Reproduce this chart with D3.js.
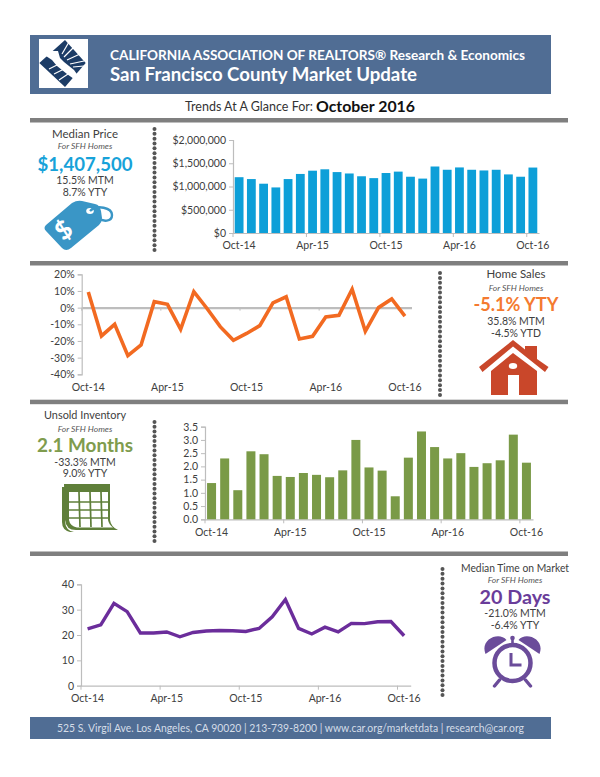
<!DOCTYPE html>
<html><head><meta charset="utf-8">
<script src="https://cdn.jsdelivr.net/npm/d3@7"></script>
<style>html,body{margin:0;padding:0;background:#fff}svg{display:block}text{font-family:Lato,"Open Sans",sans-serif}</style>
</head><body><svg id="c" width="600" height="777"></svg>
<script>
const months=["Oct-14","Nov-14","Dec-14","Jan-15","Feb-15","Mar-15","Apr-15","May-15","Jun-15","Jul-15","Aug-15","Sep-15","Oct-15","Nov-15","Dec-15","Jan-16","Feb-16","Mar-16","Apr-16","May-16","Jun-16","Jul-16","Aug-16","Sep-16","Oct-16"];
const tickMonths=["Oct-14","Apr-15","Oct-15","Apr-16","Oct-16"];
const medianPrice=[1200000,1160000,1060000,980000,1160000,1270000,1340000,1370000,1310000,1280000,1220000,1180000,1290000,1320000,1210000,1170000,1430000,1360000,1410000,1360000,1345000,1360000,1260000,1210000,1407500];
const homeSales=[9.4,-17,-10,-28.8,-22.4,3.6,2,-13,9.6,-0.5,-11.4,-19.6,-15.5,-10.8,2.8,6.5,-18.8,-17.2,-5.6,-4.6,11,-14.2,0,5.2,-5.1];
const inventory=[1.37,2.3,1.1,2.57,2.46,1.64,1.6,1.75,1.68,1.59,1.85,3.0,1.96,1.84,0.87,2.33,3.32,2.73,2.3,2.5,1.98,2.12,2.23,3.2,2.14];
const timeOnMarket=[22.4,24,32.5,29.2,20.8,20.8,21.2,19.3,21,21.6,21.8,21.7,21.4,22.6,27.2,34,22.6,20.4,23.1,21.2,24.6,24.5,25.2,25.3,19.7];
const priceTicks=[0,500000,1000000,1500000,2000000];
const salesTicks=[-40,-30,-20,-10,0,10,20];
const inventoryTicks=[0,0.5,1,1.5,2,2.5,3,3.5];
const timeTicks=[0,10,20,30,40];

const svg=d3.select("#c");
const INK="#404040",AXIS="#bdbdbd";
function T(x,y,s,o={}){
  const t=(o.p||svg).append("text").attr("x",x).attr("y",y).text(s)
   .attr("text-anchor",o.a||"middle").attr("font-size",o.s||10.5)
   .attr("font-weight",o.w||400).attr("font-style",o.i?"italic":"normal").attr("fill",o.f||INK);
  if(o.l){t.attr("textLength",o.l).attr("lengthAdjust","spacingAndGlyphs");}
  return t;
}
// page furniture
svg.append("rect").attr("x",30).attr("y",35).attr("width",521).attr("height",59).attr("fill","#506d94");
svg.append("rect").attr("x",39).attr("y",39).attr("width",49).attr("height",49).attr("fill","#fff");
// logo
const NAVY="#1c3c66";
const logo=svg.append("g");
logo.append("path").attr("fill",NAVY).attr("d","M65,40 L85.7,63 L65,87 L39.3,63 Z");
logo.append("path").attr("fill","#fff").attr("d","M46,56 L50,51 L58,51 L60,58 L64,62 L74,70 L79,77 L74,79 L67,74 L57,66 L52,60 Z");
logo.append("g").attr("stroke","#fff").attr("stroke-width",1.2).selectAll("line")
 .data([[62,54,69,42],[64,57,74,47],[67,60,80,54],[70,64,84,61],[73,67,84,66],[49,69,63,62],[54,74,66,68],[59,80,68,74]])
 .join("line").attr("x1",d=>d[0]).attr("y1",d=>d[1]).attr("x2",d=>d[2]).attr("y2",d=>d[3]);
T(110,60,"CALIFORNIA ASSOCIATION OF REALTORS® Research & Economics",{a:"start",s:13,w:700,f:"#fff",l:415});
T(110,81,"San Francisco County Market Update",{a:"start",s:18,w:700,f:"#fff",l:307});
T(185,111,"Trends At A Glance For:",{a:"start",s:13.5,l:128,f:"#333"});
T(316,111.5,"October 2016",{a:"start",s:16,w:700,f:"#111",l:99});
[118,261,399.7,551.5].forEach(y=>svg.append("rect").attr("x",30).attr("y",y).attr("width",538).attr("height",4.5).attr("fill","#7f7f7f"));
svg.append("rect").attr("x",30).attr("y",717).attr("width",521).attr("height",22).attr("fill","#506d94");
T(290.5,732,"525 S. Virgil Ave. Los Angeles, CA 90020  |  213-739-8200  |  www.car.org/marketdata |  research@car.org",{s:10.5,f:"#d5dde8",l:467});
// dotted separators
[[154.5,129,250],[440,273,395],[154.5,422,541],[442.5,569,695]].forEach(([x,a,b])=>{
  svg.append("g").attr("fill","#555").selectAll("circle").data(d3.range(a,b+.1,(b-a)/Math.round((b-a)/4.85))).join("circle")
   .attr("cx",x).attr("cy",d=>d).attr("r",2);
});
// side panels
function panel(cx,ys,title,sub,big,color,l1,l2,o={}){
  T(cx,ys[0],title,{s:o.ts||12,l:o.tl});
  T(cx,ys[1],sub,{s:8.5,i:1,f:"#555"});
  T(cx,ys[2],big,{s:18,w:700,f:color,l:o.bl});
  T(cx,ys[3],l1,{s:10.5});
  T(cx,ys[4],l2,{s:10.5});
}
panel(85,[138,149,171,184,196],"Median Price","For SFH Homes","$1,407,500","#17a2d9","15.5% MTM","8.7% YTY",{bl:95,tl:66});
panel(516,[278,290.5,311,325,337],"Home Sales","For SFH Homes","-5.1% YTY","#f47a30","35.8% MTM","-4.5% YTD",{bl:85,tl:59});
panel(85,[419,431.5,452,465.5,477],"Unsold Inventory","For SFH Homes","2.1 Months","#7f9c4e","-33.3% MTM","9.0% YTY",{bl:96,tl:82});
panel(515,[571.5,583,604,616.5,629],"Median Time on Market","For SFH Homes","20 Days","#6a3d9a","-21.0% MTM","-6.4% YTY",{bl:71,tl:108,ts:11.5});

// charts
function axes(cfg){
  const x=d3.scaleBand().domain(months).range([cfg.x0,cfg.x1]);
  const y=d3.scaleLinear().domain(cfg.dom).range([cfg.y0,cfg.y1]);
  const gy=svg.append("g").attr("transform",`translate(${cfg.x0},0)`)
    .call(d3.axisLeft(y).tickValues(cfg.ticks).tickFormat(cfg.fmt).tickSize(4).tickPadding(3));
  const baseY=cfg.base!==undefined?y(cfg.base):cfg.y0;
  const gx=svg.append("g").attr("transform",`translate(0,${baseY})`)
    .call(d3.axisBottom(x).tickValues([]).tickSizeOuter(0));
  tickMonths.forEach(m=>{
    gx.append("line").attr("x1",x(m)).attr("x2",x(m)).attr("y1",0).attr("y2",cfg.base!==undefined?3:4);
    T(x(m)+x.bandwidth()/2,cfg.labelY,m,{s:10.5});
  });
  [gy,gx].forEach(g=>{g.selectAll("path,line").attr("stroke",AXIS);g.select(".domain").attr("stroke-width",cfg.base!==undefined&&g===gx?2.2:1.2);
    g.selectAll("text").attr("font-size",10.5).attr("fill",INK).attr("font-family","Lato");});
  return {x,y};
}
function bars(data,cfg,color,w){
  const {x,y}=axes(cfg);
  svg.append("g").attr("fill",color).selectAll("rect").data(data).join("rect")
   .attr("x",(d,i)=>x(months[i])+(x.bandwidth()-w)/2).attr("width",w)
   .attr("y",d=>y(d)).attr("height",d=>y(cfg.dom[0])-y(d));
}
function line(data,cfg,color,w){
  const {x,y}=axes(cfg);
  svg.append("path").datum(data).attr("fill","none").attr("stroke",color).attr("stroke-width",w).attr("stroke-linejoin","miter")
   .attr("d",d3.line().x((d,i)=>x(months[i])+x.bandwidth()/2).y(d=>y(d)));
}
bars(medianPrice,{x0:233,x1:539,y0:233,y1:140,dom:[0,2000000],ticks:priceTicks,fmt:d3.format("$,.0f"),labelY:249},"#0d9fd8",8.8);
line(homeSales,{x0:81.7,x1:411.5,y0:374.3,y1:274.3,dom:[-40,20],ticks:salesTicks,fmt:d=>d+"%",labelY:391,base:0},"#f26a21",3.6);
bars(inventory,{x0:205,x1:533,y0:519.3,y1:426.7,dom:[0,3.5],ticks:inventoryTicks,fmt:d3.format(".1f"),labelY:536},"#7a9a47",9);
line(timeOnMarket,{x0:81,x1:410.7,y0:685.7,y1:584.3,dom:[0,40],ticks:timeTicks,fmt:d3.format("d"),labelY:702},"#6b2d9b",3.4);

// icons
const tag=svg.append("g");
tag.append("path").attr("fill","#3a96c6").attr("d","M46,225 L72,203 Q77,200 82,201 L95,204 Q100,205 101,211 L102,218 Q102,222 99,225 L71,248 Q66,252 62,248 L46,231 Q43,228 46,225 Z");
tag.append("ellipse").attr("cx",90).attr("cy",211).attr("rx",3.8).attr("ry",3).attr("fill","#fff");
tag.append("path").attr("fill","none").attr("stroke","#3a96c6").attr("stroke-width",2.4).attr("d","M90,211 C97,204 112,208 112,215 C112,222 103,222 98,218");
T(0,0,"$",{s:25,w:900,f:"#fff",p:tag}).attr("transform","translate(69,237) rotate(-38)");
// house
const h=svg.append("g").attr("fill","#c9472a");
h.append("path").attr("d","M479,367 L513,340 L525,349.5 L525,346 L537,346 L537,359 L548.5,367 L545,372 L513,346.5 L482.5,372 Z");
h.append("path").attr("d","M513,353 L537,371 L537,395 L519,395 L519,375 L508,375 L508,395 L491,395 L491,371 Z");
h.append("ellipse").attr("cx",513).attr("cy",366).attr("rx",4.2).attr("ry",3).attr("fill","#fff");
// calendar
const G="#5f7f3a";
const c=svg.append("g");
c.append("path").attr("fill",G).attr("d","M64,484 L110,484 L110,520 Q111,527 118,530 L76,530 Q66,530 65,520 Z M62,487 L65,487 L65,522 Q66,531 74,532 L70,532 Q62,530 62,522 Z");
c.append("path").attr("fill","#fff").attr("d","M69,492 L108,492 L108,520 Q109,525 113,527.5 L77,527.5 Q70,526 69,520 Z");
c.append("g").attr("stroke",G).attr("stroke-width",1.7).selectAll("line")
 .data([[69,502,108,502],[69,510,108,510],[69,518,109,518],[79,492,80,527],[90,492,91,527],[101,492,102,527]])
 .join("line").attr("x1",d=>d[0]).attr("y1",d=>d[1]).attr("x2",d=>d[2]).attr("y2",d=>d[3]);
// clock
const k=svg.append("g").attr("transform","translate(512.5,663)");
const P="#6b4c9a";
k.append("circle").attr("r",18).attr("fill","#fff").attr("stroke",P).attr("stroke-width",4.5);
k.append("path").attr("fill",P).attr("d","M-27,-9 C-33,-24 -13,-32 -6,-23 Z M27,-9 C33,-24 13,-32 6,-23 Z");
k.append("circle").attr("cy",-25).attr("r",2.3).attr("fill",P);
k.append("rect").attr("x",-1.3).attr("y",-24).attr("width",2.6).attr("height",4).attr("fill",P);
k.append("path").attr("fill","none").attr("stroke",P).attr("stroke-width",3).attr("d","M-1.5,-10 L-1.5,2 L9,2");
k.append("path").attr("fill","none").attr("stroke",P).attr("stroke-width",3.4).attr("stroke-linecap","round").attr("d","M-13,17 L-18,23 M13,17 L18,23");
</script></body></html>
